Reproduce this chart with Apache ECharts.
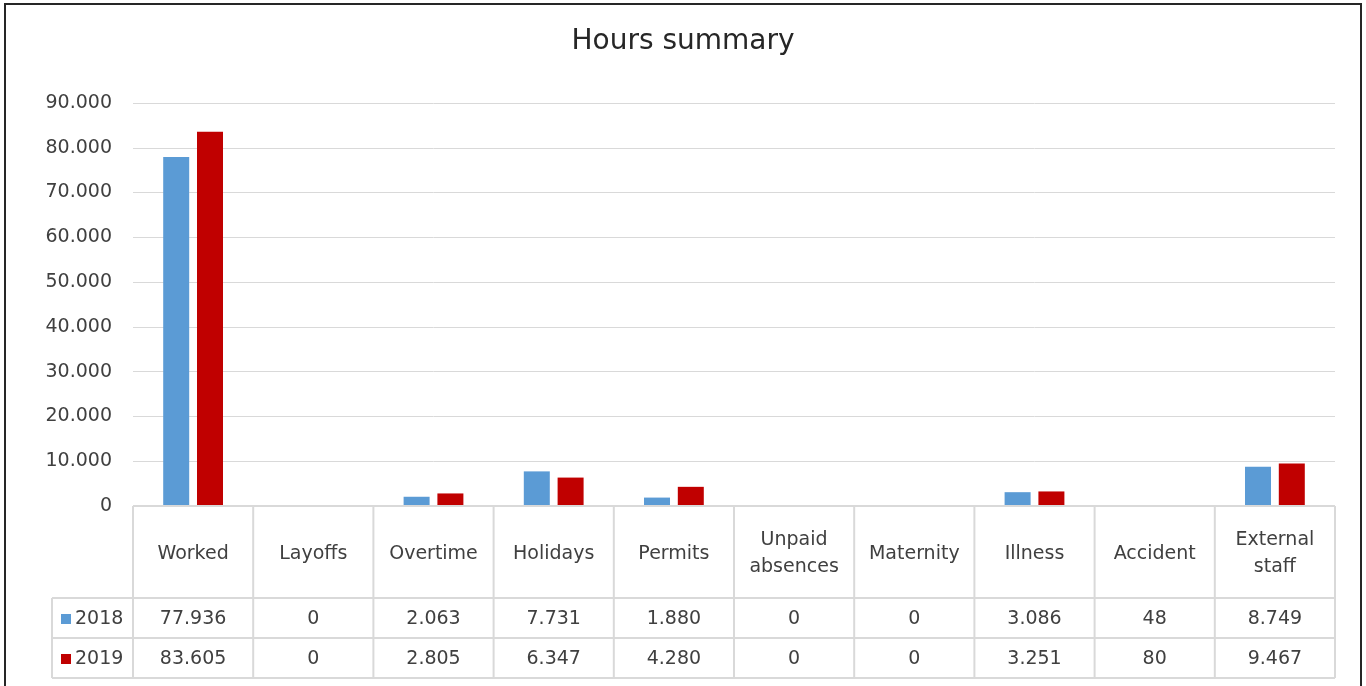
<!DOCTYPE html>
<html>
<head>
<meta charset="utf-8">
<script src="https://cdn.jsdelivr.net/npm/echarts@6/dist/echarts.min.js"></script>
<style>
  html, body { margin: 0; padding: 0; background: #fff; }
  #main { width: 1366px; height: 686px; }
</style>
</head>
<body>
<div id="main"></div>
<script>
// categories and series
var categories = ['Worked', 'Layoffs', 'Overtime', 'Holidays', 'Permits', 'Unpaid\nabsences', 'Maternity', 'Illness', 'Accident', 'External\nstaff'];
var seriesNames = ['2018', '2019'];
var hours2018 = [77936, 0, 2063, 7731, 1880, 0, 0, 3086, 48, 8749];
var hours2019 = [83605, 0, 2805, 6347, 4280, 0, 0, 3251, 80, 9467];
var colors = ['#5B9BD5', '#C00000'];

var FONT = '"DejaVu Sans"';
var TEXT = '#404040';
var LINE = '#D9D9D9';

// 77936 -> 77.936
function fmt(n) {
    return String(n).replace(/\B(?=(\d{3})+(?!\d))/g, '.');
}

var chart = echarts.init(document.getElementById('main'));

chart.setOption({
    animation: false,
    title: {
        text: 'Hours summary',
        left: 'center',
        top: 23,
        textStyle: { color: '#262626', fontSize: 28, fontWeight: 'normal', fontFamily: FONT }
    },
    legend: { show: false },
    grid: { left: 133, right: 31, top: 103, bottom: 180 },
    xAxis: {
        type: 'category',
        data: categories,
        axisLine: { show: false },
        axisTick: { show: false },
        axisLabel: { show: false }
    },
    yAxis: {
        type: 'value',
        min: 0,
        max: 90000,
        interval: 10000,
        axisLine: { show: false },
        axisTick: { show: false },
        splitLine: { lineStyle: { color: LINE, width: 1 } },
        axisLabel: {
            margin: 21,
            color: TEXT,
            fontSize: 19,
            fontFamily: FONT,
            formatter: fmt
        }
    },
    series: [
        { name: seriesNames[0], type: 'bar', data: hours2018, barWidth: 26, barGap: '30%', itemStyle: { color: colors[0] } },
        { name: seriesNames[1], type: 'bar', data: hours2019, barWidth: 26, barGap: '30%', itemStyle: { color: colors[1] } }
    ]
});

// data table under the plot, built from the same arrays
function buildTable() {
    var g = [];
    var y0 = chart.convertToPixel({ yAxisIndex: 0 }, 0);
    var xs = categories.map(function (c, i) { return chart.convertToPixel({ xAxisIndex: 0 }, i); });
    var step = xs.length > 1 ? xs[1] - xs[0] : 120;
    var left = xs[0] - step / 2;
    var right = xs[xs.length - 1] + step / 2;
    var headerH = 92, rowH = 40, keyLeft = 52;
    var rows = [hours2018, hours2019];
    var yRow1 = y0 + headerH;
    var yEnd = yRow1 + rowH * rows.length;
    function line(x1, y1, x2, y2) {
        g.push({ type: 'line', shape: { x1: x1, y1: y1, x2: x2, y2: y2 }, style: { stroke: LINE, lineWidth: 2 }, z: 10 });
    }
    function text(t, x, y, align) {
        g.push({ type: 'text', x: x, y: y, z: 11, style: {
            text: t, fill: TEXT, font: '19px ' + FONT, align: align || 'center', verticalAlign: 'middle', lineHeight: 27
        } });
    }
    // horizontal rules
    line(left, y0, right, y0);
    for (var r = 0; r <= rows.length; r++) line(keyLeft, yRow1 + r * rowH, right, yRow1 + r * rowH);
    // vertical rules
    line(keyLeft, yRow1, keyLeft, yEnd);
    for (var i = 0; i <= categories.length; i++) line(left + i * step, y0, left + i * step, yEnd);
    // header
    categories.forEach(function (c, i) { text(c, xs[i], y0 + headerH / 2 + 2); });
    // rows
    rows.forEach(function (vals, ri) {
        var cy = yRow1 + rowH * ri + rowH / 2 + 1;
        g.push({ type: 'rect', shape: { x: keyLeft + 9, y: cy - 5, width: 10, height: 10 }, style: { fill: colors[ri] }, z: 11 });
        text(seriesNames[ri], keyLeft + 23, cy, 'left');
        vals.forEach(function (v, i) { text(fmt(v), xs[i], cy); });
    });
    // outer frame
    g.push({ type: 'rect', shape: { x: 5, y: 4, width: 1356, height: 700 }, style: { fill: 'none', stroke: '#262626', lineWidth: 2 }, z: 12 });
    chart.setOption({ graphic: g });
}
buildTable();
</script>
</body>
</html>
